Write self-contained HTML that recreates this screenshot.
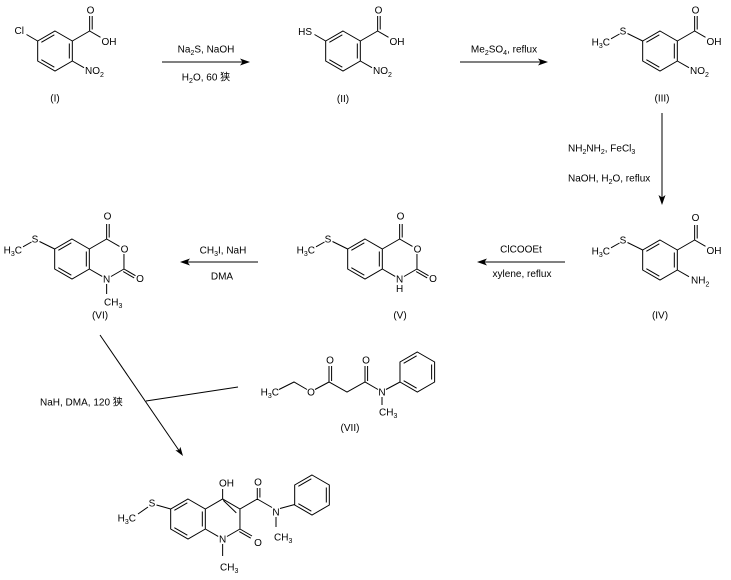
<!DOCTYPE html>
<html>
<head>
<meta charset="utf-8">
<style>
html,body{margin:0;padding:0;background:#fff;}
svg{display:block;}
text{font-family:"Liberation Sans","Noto Sans CJK SC",sans-serif;font-size:10px;fill:#000;}
.b{stroke:#000;stroke-width:1;fill:none;}
.ah{fill:#000;stroke:none;}
</style>
</head>
<body>
<svg width="731" height="580" viewBox="0 0 731 580" xmlns="http://www.w3.org/2000/svg">
<rect width="731" height="580" fill="#fff"/>

<!-- Compound I -->
<g transform="translate(55,51)">
<path class="b" d="M0,-20L17.32,-10L17.32,10L0,20L-17.32,10L-17.32,-10Z M14.32,-7.5L14.32,7.5 M-13.65,8.65L-0.67,16.15 M-13.65,-8.65L-0.67,-16.15"/>
<path class="b" d="M-17.32,-10L-28.5,-16.5 M17.32,-10L34.64,-20 M34.64,-20V-35 M37.2,-21.5V-35 M34.64,-20L45.5,-13.7 M17.32,10L29,16.7"/>
<text x="-31" y="-17" text-anchor="end">Cl</text>
<text x="35.5" y="-37.5" text-anchor="middle">O</text>
<text x="46.5" y="-6">OH</text>
<text x="30" y="23">NO<tspan dy="3" font-size="7">2</tspan></text>
</g>
<text x="55" y="101.5" text-anchor="middle">(I)</text>

<!-- Arrow 1 -->
<line class="b" x1="162" y1="62" x2="244" y2="62"/>
<polygon class="ah" points="250,62 240,58.5 242.5,62 240,65.5"/>
<text x="206" y="52.5" text-anchor="middle">Na<tspan dy="2.5" font-size="7">2</tspan><tspan dy="-2.5">S, NaOH</tspan></text>
<text x="206" y="80.5" text-anchor="middle">H<tspan dy="2.5" font-size="7">2</tspan><tspan dy="-2.5">O, 60 狭</tspan></text>

<!-- Compound II -->
<g transform="translate(343,51)">
<path class="b" d="M0,-20L17.32,-10L17.32,10L0,20L-17.32,10L-17.32,-10Z M14.32,-7.5L14.32,7.5 M-13.65,8.65L-0.67,16.15 M-13.65,-8.65L-0.67,-16.15"/>
<path class="b" d="M-17.32,-10L-28.5,-16.5 M17.32,-10L34.64,-20 M34.64,-20V-35 M37.2,-21.5V-35 M34.64,-20L45.5,-13.7 M17.32,10L29,16.7"/>
<text x="-31" y="-16" text-anchor="end">HS</text>
<text x="35.5" y="-37.5" text-anchor="middle">O</text>
<text x="46.5" y="-6">OH</text>
<text x="30" y="23">NO<tspan dy="3" font-size="7">2</tspan></text>
</g>
<text x="343" y="102" text-anchor="middle">(II)</text>

<!-- Arrow 2 -->
<line class="b" x1="460" y1="62" x2="542" y2="62"/>
<polygon class="ah" points="548,62 538,58.5 540.5,62 538,65.5"/>
<text x="504" y="52.5" text-anchor="middle">Me<tspan dy="2.5" font-size="7">2</tspan><tspan dy="-2.5">SO</tspan><tspan dy="2.5" font-size="7">4</tspan><tspan dy="-2.5">, reflux</tspan></text>

<!-- Compound III -->
<g transform="translate(660,51)">
<path class="b" d="M0,-20L17.32,-10L17.32,10L0,20L-17.32,10L-17.32,-10Z M14.32,-7.5L14.32,7.5 M-13.65,8.65L-0.67,16.15 M-13.65,-8.65L-0.67,-16.15"/>
<path class="b" d="M-17.32,-10L-32.5,-17.5 M-40.5,-17L-49,-12.2 M17.32,-10L34.64,-20 M34.64,-20V-35 M37.2,-21.5V-35 M34.64,-20L45.5,-13.7 M17.32,10L29,16.7"/>
<text x="-37" y="-16.5" text-anchor="middle">S</text>
<text x="-50" y="-5.5" text-anchor="end">H<tspan dy="2.5" font-size="7">3</tspan><tspan dy="-2.5">C</tspan></text>
<text x="35.5" y="-37.5" text-anchor="middle">O</text>
<text x="46.5" y="-6">OH</text>
<text x="30" y="23">NO<tspan dy="3" font-size="7">2</tspan></text>
</g>
<text x="662" y="101.5" text-anchor="middle">(III)</text>

<!-- Arrow 3 vertical -->
<line class="b" x1="662" y1="113" x2="662" y2="198"/>
<polygon class="ah" points="662,205 658.5,195 662,197.5 665.5,195"/>
<text x="568" y="151.5">NH<tspan dy="2.5" font-size="7">2</tspan><tspan dy="-2.5">NH</tspan><tspan dy="2.5" font-size="7">2</tspan><tspan dy="-2.5">, FeCl</tspan><tspan dy="2.5" font-size="7">3</tspan></text>
<text x="568" y="181.5">NaOH, H<tspan dy="2.5" font-size="7">2</tspan><tspan dy="-2.5">O, reflux</tspan></text>

<!-- Compound IV -->
<g transform="translate(660,260)">
<path class="b" d="M0,-20L17.32,-10L17.32,10L0,20L-17.32,10L-17.32,-10Z M14.32,-7.5L14.32,7.5 M-13.65,8.65L-0.67,16.15 M-13.65,-8.65L-0.67,-16.15"/>
<path class="b" d="M-17.32,-10L-32.5,-17.5 M-40.5,-17L-49,-12.2 M17.32,-10L34.64,-20 M34.64,-20V-35 M37.2,-21.5V-35 M34.64,-20L45.5,-13.7 M17.32,10L29,16.7"/>
<text x="-37" y="-16.5" text-anchor="middle">S</text>
<text x="-50" y="-5.5" text-anchor="end">H<tspan dy="2.5" font-size="7">3</tspan><tspan dy="-2.5">C</tspan></text>
<text x="35.5" y="-39" text-anchor="middle">O</text>
<text x="46.5" y="-6">OH</text>
<text x="31" y="23.5">NH<tspan dy="3" font-size="7">2</tspan></text>
</g>
<text x="660" y="318.5" text-anchor="middle">(IV)</text>

<!-- Arrow 4 (IV -> V) -->
<line class="b" x1="565" y1="262" x2="483" y2="262"/>
<polygon class="ah" points="477,262 487,258.5 484.5,262 487,265.5"/>
<text x="521" y="252.5" text-anchor="middle">ClCOOEt</text>
<text x="522" y="277" text-anchor="middle">xylene, reflux</text>

<!-- Compound V -->
<g transform="translate(365,259)">
<path class="b" d="M0,-20L17.32,-10L17.32,10L0,20L-17.32,10L-17.32,-10Z M14.32,-7.5L14.32,7.5 M-13.65,8.65L-0.67,16.15 M-13.65,-8.65L-0.67,-16.15"/>
<path class="b" d="M-17.32,-10L-32.5,-17.5 M-40.5,-17L-49,-12.2 M17.32,-10L34.64,-20 M34.64,-20L47.5,-12.6 M51.96,-5L51.96,10 M51.96,10L39,17.5 M30.2,17.4L17.32,10 M34.64,-20V-35 M37.2,-21.5V-35 M51.96,10L63.5,16.7 M51.2,12.6L62.2,18.9"/>
<text x="-37" y="-16.5" text-anchor="middle">S</text>
<text x="-50" y="-5.5" text-anchor="end">H<tspan dy="2.5" font-size="7">3</tspan><tspan dy="-2.5">C</tspan></text>
<text x="35.5" y="-39.5" text-anchor="middle">O</text>
<text x="52.5" y="-6.5" text-anchor="middle">O</text>
<text x="68" y="23" text-anchor="middle">O</text>
<text x="34.64" y="23.5" text-anchor="middle">N</text>
<text x="34.64" y="33" text-anchor="middle">H</text>
</g>
<text x="400" y="318.5" text-anchor="middle">(V)</text>

<!-- Arrow 5 (V -> VI) -->
<line class="b" x1="258" y1="262" x2="186" y2="262"/>
<polygon class="ah" points="180,262 190,258.5 187.5,262 190,265.5"/>
<text x="223" y="253.5" text-anchor="middle">CH<tspan dy="2.5" font-size="7">3</tspan><tspan dy="-2.5">I, NaH</tspan></text>
<text x="222" y="279.5" text-anchor="middle">DMA</text>

<!-- Compound VI -->
<g transform="translate(72,259)">
<path class="b" d="M0,-20L17.32,-10L17.32,10L0,20L-17.32,10L-17.32,-10Z M14.32,-7.5L14.32,7.5 M-13.65,8.65L-0.67,16.15 M-13.65,-8.65L-0.67,-16.15"/>
<path class="b" d="M-17.32,-10L-32.5,-17.5 M-40.5,-17L-49,-12.2 M17.32,-10L34.64,-20 M34.64,-20L47.5,-12.6 M51.96,-5L51.96,10 M51.96,10L39,17.5 M30.2,17.4L17.32,10 M34.64,-20V-35 M37.2,-21.5V-35 M51.96,10L63.5,16.7 M51.2,12.6L62.2,18.9 M34.64,25V35"/>
<text x="-37" y="-16.5" text-anchor="middle">S</text>
<text x="-50" y="-5.5" text-anchor="end">H<tspan dy="2.5" font-size="7">3</tspan><tspan dy="-2.5">C</tspan></text>
<text x="35.5" y="-39.5" text-anchor="middle">O</text>
<text x="52.5" y="-6.5" text-anchor="middle">O</text>
<text x="68" y="23" text-anchor="middle">O</text>
<text x="34.64" y="23.5" text-anchor="middle">N</text>
<text x="32" y="46.5">CH<tspan dy="2.5" font-size="7">3</tspan></text>
</g>
<text x="100" y="318.5" text-anchor="middle">(VI)</text>

<!-- Diagonal arrow -->
<line class="b" x1="100" y1="335" x2="179" y2="450.5"/>
<polygon class="ah" points="183,456 175.4,450.3 179,450.2 180.4,446.9"/>
<line class="b" x1="146" y1="401" x2="238" y2="387"/>
<text x="40" y="405.5">NaH, DMA, 120 狭</text>

<!-- Compound VII -->
<path class="b" d="M279,389.5L294,382L307,389.5 M315,389.5L329,382L347,392L365,382L378,389.5 M386,389.5L400,382 M329,382V366 M331.6,381V366 M365,382V366 M367.6,381V366 M382,397V405"/>
<text x="279" y="395.5" text-anchor="end">H<tspan dy="2.5" font-size="7">3</tspan><tspan dy="-2.5">C</tspan></text>
<text x="311" y="395.5" text-anchor="middle">O</text>
<text x="330" y="363.5" text-anchor="middle">O</text>
<text x="366" y="363.5" text-anchor="middle">O</text>
<text x="382" y="395.5" text-anchor="middle">N</text>
<text x="379" y="415.5">CH<tspan dy="2.5" font-size="7">3</tspan></text>
<g transform="translate(417.3,372)">
<path class="b" d="M0,-20L17.32,-10L17.32,10L0,20L-17.32,10L-17.32,-10Z M14.32,-7.5L14.32,7.5 M-13.65,8.65L-0.67,16.15 M-13.65,-8.65L-0.67,-16.15"/>
</g>
<text x="350" y="431" text-anchor="middle">(VII)</text>

<!-- Product -->
<g transform="translate(188,519)">
<path class="b" d="M0,-20L17.32,-10L17.32,10L0,20L-17.32,10L-17.32,-10Z M14.32,-7.5L14.32,7.5 M-13.65,8.65L-0.67,16.15 M-13.65,-8.65L-0.67,-16.15"/>
<path class="b" d="M17.32,-10L34.64,-20L51.96,-10L51.96,10L39,17.5 M30.2,17.4L17.32,10 M35.3,-18.65L48.3,-6.15 M34.64,-20V-30 M51.96,-10L69.28,-20 M69.28,-20V-31 M71.9,-21.5V-31 M69.28,-20L84,-11.5 M88,-2V8 M92,-10.5L106.7,-14.5 M51.96,10L64,17 M51.3,12.6L62.8,19.2 M34.64,25V37 M-17.32,-10L-31.5,-14 M-40,-12L-50,-5"/>
<text x="-36" y="-12.5" text-anchor="middle">S</text>
<text x="-52" y="2.5" text-anchor="end">H<tspan dy="2.5" font-size="7">3</tspan><tspan dy="-2.5">C</tspan></text>
<text x="31" y="-32.5">OH</text>
<text x="70" y="-33.5" text-anchor="middle">O</text>
<text x="88" y="-3.5" text-anchor="middle">N</text>
<text x="86" y="21.5">CH<tspan dy="2.5" font-size="7">3</tspan></text>
<text x="70" y="27" text-anchor="middle">O</text>
<text x="34.64" y="23.5" text-anchor="middle">N</text>
<text x="32" y="51.5">CH<tspan dy="2.5" font-size="7">3</tspan></text>
</g>
<g transform="translate(312,495)">
<path class="b" d="M0,-20L17.32,-10L17.32,10L0,20L-17.32,10L-17.32,-10Z M14.32,-7.5L14.32,7.5 M-13.65,8.65L-0.67,16.15 M-13.65,-8.65L-0.67,-16.15"/>
</g>

</svg>
</body>
</html>
